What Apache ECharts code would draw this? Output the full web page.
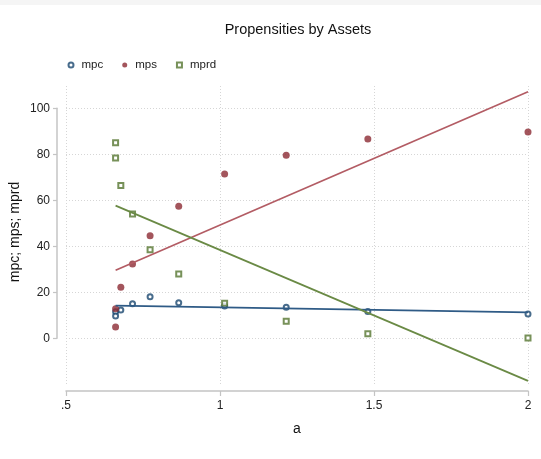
<!DOCTYPE html>
<html>
<head>
<meta charset="utf-8">
<script src="https://cdn.jsdelivr.net/npm/echarts@6/dist/echarts.min.js"></script>
<style>
html,body{margin:0;padding:0;background:#fff;}
#chart{width:541px;height:459px;}
</style>
</head>
<body>
<div id="chart"></div>
<script>
// data
var aVals = [0.661, 0.661, 0.678, 0.716, 0.773, 0.866, 1.015, 1.215, 1.480, 2.0];
var mpc   = [11.6, 9.7, 12.3, 15.0, 18.1, 15.5, 14.0, 13.5, 11.7, 10.6];
var mps   = [4.9, 12.9, 22.2, 32.3, 44.6, 57.4, 71.4, 79.6, 86.7, 89.7];
var mprd  = [85.0, 78.4, 66.4, 54.0, 38.5, 28.0, 15.2, 7.4, 2.0, 0.1];
// fitted lines (values at the ends of the a-range)
var fitA    = [0.661, 2.0];
var mpcFit  = [14.2, 11.3];
var mpsFit  = [29.6, 107.2];
var mprdFit = [57.7, -18.5];
var xTicks = [0.5, 1, 1.5, 2];
var yTicks = [0, 20, 40, 60, 80, 100];

function pairs(xs, ys){ return xs.map(function(x,i){ return [x, ys[i]]; }); }

var FONT = '"Liberation Sans", Arial, Helvetica, sans-serif';
var chart = echarts.init(document.getElementById('chart'));
var option = {
  animation: false,
  backgroundColor: '#ffffff',
  textStyle: {fontFamily: FONT},
  graphic: [
    {type:'rect', shape:{x:0,y:0,width:541,height:5}, style:{fill:'#f5f5f5'}, silent:true},
    {type:'text', x:298, y:30, style:{text:'Propensities by Assets', fontSize:14.5, fontFamily:FONT, fill:'#111', align:'center', verticalAlign:'middle'}},
    {type:'text', x:15, y:232, rotation:Math.PI/2, style:{text:'mpc; mps; mprd', fontSize:14, fontFamily:FONT, fill:'#111', align:'center', verticalAlign:'middle'}},
    {type:'text', x:297, y:429, style:{text:'a', fontSize:14, fontFamily:FONT, fill:'#111', align:'center', verticalAlign:'middle'}}
  ],
  legend: {
    left: 62.5, top: 54, itemWidth: 5, itemHeight: 5, itemGap: 19,
    textStyle: {fontSize: 11.5, color: '#222', fontFamily: FONT, padding:[0,0,0,3]},
    data: ['mpc', 'mps', 'mprd']
  },
  grid: [
    {left: 66, right: 13, top: 86, bottom: 74},
    {left: 66, right: 13, top: 108.3, bottom: 120.7}
  ],
  xAxis: [
    {type:'value', gridIndex:0, min:0.5, max:2, interval:0.5, offset:6,
     axisLine:{show:true, onZero:false, lineStyle:{color:'#c4c4c4', width:1.5}},
     axisTick:{show:true, length:5, lineStyle:{color:'#c4c4c4', width:1.2}},
     axisLabel:{margin:9, fontSize:12, color:'#222', fontFamily:FONT,
       formatter:function(v){ var s=String(v); return v<1 ? s.replace(/^0/,'') : s; }},
     splitLine:{show:true, lineStyle:{color:'#d6d6d6', type:[1,2], width:1}}},
    {type:'value', gridIndex:1, min:0.5, max:2, show:false}
  ],
  yAxis: [
    {type:'value', gridIndex:0, min:-20.3, max:109.7, show:false},
    {type:'value', gridIndex:1, min:0, max:100, interval:20, offset:9,
     axisLine:{show:true, onZero:false, lineStyle:{color:'#c4c4c4', width:1.5}},
     axisTick:{show:true, length:4, lineStyle:{color:'#c4c4c4', width:1.2}},
     axisLabel:{margin:7, fontSize:12, color:'#222', fontFamily:FONT},
     splitLine:{show:true, lineStyle:{color:'#d6d6d6', type:[1,2], width:1}}}
  ],
  series: [
    {name:'mpc', type:'scatter', xAxisIndex:0, yAxisIndex:0, symbol:'emptyCircle', symbolSize:5,
     itemStyle:{color:'#1a476f', borderWidth:1.2}, data: pairs(aVals, mpc), z:3},
    {name:'mps', type:'scatter', xAxisIndex:0, yAxisIndex:0, symbol:'circle', symbolSize:7,
     itemStyle:{color:'#8c2a33'}, data: pairs(aVals, mps), z:3},
    {name:'mprd', type:'scatter', xAxisIndex:0, yAxisIndex:0, symbol:'emptyRect', symbolSize:5,
     itemStyle:{color:'#55752f', borderWidth:1.2}, data: pairs(aVals, mprd), z:3},
    {name:'mpcFit', type:'line', xAxisIndex:0, yAxisIndex:0, showSymbol:false, silent:true,
     lineStyle:{color:'#2f5b86', width:1.7}, data: pairs(fitA, mpcFit), z:4},
    {name:'mpsFit', type:'line', xAxisIndex:0, yAxisIndex:0, showSymbol:false, silent:true,
     lineStyle:{color:'#b35c64', width:1.7}, data: pairs(fitA, mpsFit), z:4},
    {name:'mprdFit', type:'line', xAxisIndex:0, yAxisIndex:0, showSymbol:false, silent:true,
     lineStyle:{color:'#6a8a45', width:1.7}, data: pairs(fitA, mprdFit), z:4}
  ]
};
chart.setOption(option);
</script>
</body>
</html>
